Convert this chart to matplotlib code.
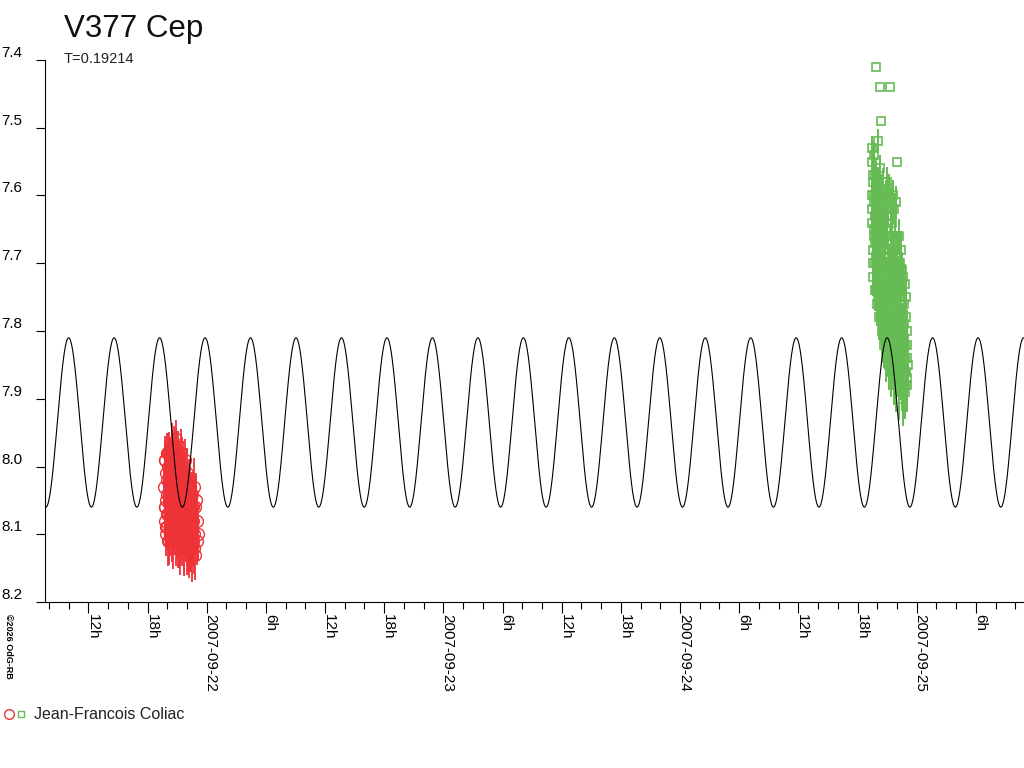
import datetime as dt
import numpy as np
import matplotlib
matplotlib.use("Agg")
from matplotlib import pyplot as plt
import matplotlib.dates as dtm
from matplotlib.lines import Line2D
from matplotlib.ticker import FuncFormatter

plt.rcParams['font.family'] = ['Liberation Sans', 'DejaVu Sans']

# ---- data -------------------------------------------------------------
star = "V377 Cep"
period = 0.19214            # days
epoch = dt.datetime(2007, 9, 21, 23, 50)   # time of a maximum
mag_mean = 7.935
mag_amp = 0.125
observer = "Jean-Francois Coliac"

# night 1 : hours after 2007-09-21 00:00 UT
red_day = dt.datetime(2007, 9, 21)
red_hours = [19.70, 19.73, 19.77, 19.80, 19.84, 19.88, 19.91, 19.95, 19.99, 20.02,
             20.06, 20.10, 20.13, 20.17, 20.21, 20.24, 20.28, 20.32, 20.36, 20.39,
             20.43, 20.47, 20.50, 20.54, 20.58, 20.61, 20.65, 20.69, 20.72, 20.76,
             20.80, 20.84, 20.87, 20.91, 20.95, 20.98, 21.02, 21.06, 21.09, 21.13,
             21.17, 21.21, 21.24, 21.28, 21.32, 21.35, 21.39, 21.43, 21.46, 21.50,
             21.54, 21.58, 21.61, 21.65, 21.69, 21.72, 21.76, 21.80, 21.84, 21.87,
             21.91, 21.95, 21.98, 22.02, 22.06, 22.09, 22.13, 22.17, 22.21, 22.24,
             22.28, 22.32, 22.35, 22.39, 22.43, 22.46, 22.50, 22.54, 22.58, 22.61,
             22.65, 22.69, 22.72, 22.76, 22.80, 22.86, 22.92, 22.98, 23.04, 23.11,
             19.75, 19.82, 19.86, 19.93, 20.00, 20.04, 20.08, 20.15, 20.19, 20.26,
             20.30, 20.34, 20.41, 20.45, 20.52, 20.56, 20.63, 20.67, 20.74, 20.78,
             20.85, 20.89, 20.93, 21.00, 21.04, 21.11, 21.15, 21.19, 21.26, 21.30,
             21.37, 21.41, 21.48, 21.52, 21.56, 21.63, 21.67, 21.74, 21.78, 21.82,
             21.89, 21.93, 22.00, 22.04, 22.11, 22.15, 22.19, 22.26, 22.30, 22.37]
red_mag = [8.03, 8.08, 7.99, 8.06, 8.10, 8.01, 8.05, 7.98, 8.09, 8.04,
           8.00, 8.07, 8.11, 8.02, 7.98, 8.06, 8.09, 7.99, 8.04, 8.08,
           7.97, 8.03, 8.10, 8.06, 7.98, 8.12, 8.01, 8.05, 7.97, 8.08,
           8.02, 8.11, 7.96, 8.06, 8.09, 8.00, 8.04, 8.12, 7.98, 8.07,
           8.03, 8.10, 7.99, 8.06, 8.12, 8.01, 8.08, 7.98, 8.05, 8.11,
           8.02, 8.09, 8.00, 8.07, 8.12, 8.03, 8.10, 7.99, 8.06, 8.11,
           8.04, 8.13, 8.01, 8.08, 8.11, 8.03, 8.06, 8.12, 8.02, 8.09,
           8.05, 8.12, 8.03, 8.10, 8.07, 8.13, 8.04, 8.09, 8.11, 8.06,
           8.08, 8.12, 8.03, 8.10, 8.06, 8.13, 8.05, 8.11, 8.08, 8.10,
           8.06, 7.99, 8.09, 8.02, 8.07, 7.98, 8.11, 8.05, 8.01, 8.10,
           8.04, 8.07, 8.00, 8.11, 8.05, 8.09, 7.99, 8.10, 8.04, 8.02,
           8.09, 7.98, 8.05, 8.10, 8.02, 8.07, 8.12, 8.00, 8.09, 8.04,
           8.06, 8.11, 8.02, 8.08, 8.04, 8.10, 8.06, 8.12, 8.02, 8.08,
           8.10, 8.06, 8.11, 8.04, 8.07, 8.12, 8.05, 8.10, 8.08, 8.12]
red_err = [.030, .025, .035, .028, .032, .040, .026, .030, .034, .027,
           .033, .029, .036, .025, .031, .038, .027, .030, .035, .028,
           .034, .026, .030, .041, .029, .032, .027, .036, .030, .025,
           .031, .037, .028, .033, .035, .026, .039, .030, .032, .034,
           .029, .036, .031, .027, .040, .033, .030, .035, .028, .037,
           .032, .028, .038, .030, .041, .027, .034, .031, .036, .029,
           .035, .030, .037, .042, .028, .033, .039, .045, .031, .036,
           .038, .034, .030, .043, .036, .040, .032, .044, .037, .041,
           .035, .039, .042, .033, .046, .038, .041, .036, .043, .040,
           .036, .031, .028, .040, .033, .030, .037, .029, .035, .032,
           .038, .027, .034, .031, .039, .030, .036, .028, .033, .040,
           .031, .035, .029, .037, .032, .041, .030, .036, .034, .028,
           .039, .033, .030, .036, .042, .031, .035, .038, .032, .037,
           .034, .040, .036, .031, .043, .035, .039, .033, .041, .036]

# night 2 : hours after 2007-09-24 00:00 UT
green_day = dt.datetime(2007, 9, 24)
green_hours = [19.45, 19.48, 19.51, 19.55, 19.58, 19.61, 19.65, 19.68, 19.71, 19.75,
               19.78, 19.81, 19.85, 19.88, 19.91, 19.95, 19.98, 20.01, 20.05, 20.08,
               20.11, 20.15, 20.18, 20.21, 20.25, 20.28, 20.31, 20.35, 20.38, 20.41,
               20.45, 20.48, 20.51, 20.55, 20.58, 20.61, 20.65, 20.68, 20.71, 20.75,
               20.78, 20.81, 20.85, 20.88, 20.91, 20.95, 20.98, 21.01, 21.05, 21.08,
               21.11, 21.15, 21.18, 21.21, 21.25, 21.28, 21.31, 21.35, 21.38, 21.41,
               21.45, 21.48, 21.51, 21.55, 21.58, 21.61, 21.65, 21.68, 21.71, 21.75,
               21.78, 21.81, 21.85, 21.88, 21.91, 21.95, 21.98, 22.01, 22.05, 22.08,
               22.11, 22.15, 22.18, 22.21, 22.25, 22.28, 22.31, 22.35, 22.38, 22.41,
               22.45, 22.48, 22.51, 22.55, 22.58, 22.61, 22.65, 22.68, 22.71, 22.75,
               22.78, 22.81, 22.85, 22.88, 22.91, 22.95, 22.98, 23.01, 23.05, 23.09,
               19.47, 19.53, 19.60, 19.66, 19.73, 19.80, 19.86, 19.93, 20.00, 20.06,
               20.13, 20.20, 20.26, 20.33, 20.40, 20.46, 20.53, 20.60, 20.66, 20.73,
               20.80, 20.86, 20.93, 21.00, 21.06, 21.13, 21.20, 21.26, 21.33, 21.40,
               21.46, 21.53, 21.60, 21.66, 21.73, 21.80, 21.86, 21.93, 22.00, 22.06,
               22.13, 22.20, 22.26, 22.33, 22.40, 22.46, 22.53, 22.60, 22.66, 22.73,
               22.80, 22.86, 22.93, 23.00, 23.06, 19.50, 19.63, 19.90, 20.23, 20.50]
green_mag = [7.55, 7.62, 7.53, 7.68, 7.58, 7.72, 7.60, 7.65, 7.54, 7.70,
             7.63, 7.57, 7.74, 7.41, 7.66, 7.59, 7.76, 7.64, 7.52, 7.69,
             7.58, 7.72, 7.62, 7.78, 7.56, 7.44, 7.67, 7.49, 7.74, 7.60,
             7.70, 7.59, 7.80, 7.64, 7.75, 7.58, 7.68, 7.82, 7.62, 7.77,
             7.66, 7.81, 7.60, 7.72, 7.84, 7.63, 7.58, 7.78, 7.69, 7.83,
             7.62, 7.75, 7.85, 7.59, 7.70, 7.44, 7.80, 7.66, 7.86, 7.61,
             7.73, 7.64, 7.84, 7.60, 7.78, 7.68, 7.87, 7.62, 7.76, 7.83,
             7.66, 7.80, 7.71, 7.88, 7.61, 7.75, 7.55, 7.84, 7.68, 7.79,
             7.72, 7.86, 7.66, 7.80, 7.89, 7.70, 7.77, 7.85, 7.68, 7.82,
             7.74, 7.88, 7.71, 7.83, 7.79, 7.90, 7.72, 7.86, 7.76, 7.81,
             7.84, 7.73, 7.89, 7.78, 7.86, 7.75, 7.82, 7.88, 7.80, 7.85,
             7.64, 7.57, 7.70, 7.61, 7.74, 7.67, 7.58, 7.71, 7.63, 7.75,
             7.66, 7.60, 7.73, 7.69, 7.78, 7.65, 7.72, 7.80, 7.68, 7.75,
             7.70, 7.79, 7.65, 7.74, 7.82, 7.69, 7.77, 7.73, 7.84, 7.71,
             7.79, 7.75, 7.82, 7.70, 7.86, 7.77, 7.73, 7.81, 7.78, 7.85,
             7.80, 7.74, 7.87, 7.82, 7.78, 7.85, 7.80, 7.88, 7.83, 7.79,
             7.86, 7.82, 7.88, 7.84, 7.87, 7.60, 7.66, 7.69, 7.65, 7.73]
green_err = [.020, .025, .018, .030, .022, .028, .024, .026, .019, .029,
             .027, .021, .031, .000, .025, .023, .032, .026, .018, .028,
             .022, .030, .024, .033, .020, .000, .027, .000, .031, .023,
             .029, .022, .034, .025, .030, .021, .027, .035, .024, .031,
             .026, .033, .023, .029, .036, .025, .022, .032, .028, .035,
             .024, .030, .037, .022, .028, .000, .033, .026, .038, .023,
             .031, .025, .036, .023, .032, .027, .039, .024, .030, .035,
             .026, .033, .029, .040, .024, .031, .000, .036, .027, .032,
             .030, .037, .026, .033, .041, .028, .031, .036, .027, .034,
             .029, .038, .027, .034, .031, .040, .028, .036, .030, .033,
             .035, .029, .040, .032, .037, .030, .034, .039, .031, .036,
             .030, .026, .033, .028, .031, .035, .027, .032, .029, .034,
             .031, .027, .036, .030, .033, .028, .035, .031, .037, .029,
             .032, .036, .030, .034, .038, .031, .035, .029, .037, .033,
             .036, .032, .039, .030, .035, .037, .033, .040, .031, .036,
             .034, .038, .032, .041, .035, .037, .033, .039, .036, .034,
             .038, .035, .040, .036, .037, .028, .031, .030, .032, .029]

mag_ticks = [7.4, 7.5, 7.6, 7.7, 7.8, 7.9, 8.0, 8.1, 8.2]
x_start = dt.datetime(2007, 9, 21, 7, 36)
x_end = dt.datetime(2007, 9, 25, 10, 53)

red_col = '#ee3338'
green_col = '#66bb55'

# ---- figure -----------------------------------------------------------
fig = plt.figure(figsize=(10.24, 7.68), dpi=100)
ax = fig.add_axes([45/1024, 1-602/768, 1-45/1024, (602-60)/768])

red_t = [red_day + dt.timedelta(hours=h) for h in red_hours]
green_t = [green_day + dt.timedelta(hours=h) for h in green_hours]

ax.errorbar(red_t, red_mag, yerr=red_err, fmt='o', ms=8.5, mfc='none', mec=red_col,
            mew=1, ecolor=red_col, elinewidth=1.3, capsize=0, zorder=2)
ax.errorbar(green_t, green_mag, yerr=green_err, fmt='s', ms=6, mfc='none', mec=green_col,
            mew=1.2, ecolor=green_col, elinewidth=1.4, capsize=0, zorder=2)

# model light curve with period T
tnum = np.linspace(dtm.date2num(x_start), dtm.date2num(x_end), 4000)
phase = (tnum - dtm.date2num(epoch)) / period
ax.plot(tnum, mag_mean - mag_amp*np.cos(2*np.pi*phase), color='black', lw=0.8, zorder=3)

ax.set_xlim(x_start, x_end)
ax.set_ylim(8.2, 7.4)

for s in ['top', 'right']:
    ax.spines[s].set_visible(False)
ax.spines['left'].set_linewidth(0.8)
ax.spines['bottom'].set_linewidth(0.8)

ax.set_yticks(mag_ticks)
ax.yaxis.set_major_formatter(FuncFormatter(lambda v, p: '%.1f' % v))
ax.tick_params(axis='y', direction='out', length=6.5, width=0.8, pad=10, labelsize=11)
for lab in ax.get_yticklabels():
    lab.set_verticalalignment('bottom')


def hour_fmt(v, pos):
    d = dtm.num2date(v)
    if d.hour == 0:
        return d.strftime('%Y-%m-%d')
    return '%dh' % d.hour


ax.xaxis.set_major_locator(dtm.HourLocator(byhour=[0, 6, 12, 18]))
ax.xaxis.set_minor_locator(dtm.HourLocator(byhour=range(0, 24, 2)))
ax.xaxis.set_major_formatter(FuncFormatter(hour_fmt))
ax.tick_params(axis='x', which='major', direction='out', length=8, width=0.8, pad=1, labelsize=11)
ax.tick_params(axis='x', which='minor', direction='out', length=5, width=0.8)
for lab in ax.get_xticklabels():
    lab.set_rotation(270)
    lab.set_rotation_mode('anchor')
    lab.set_horizontalalignment('left')
    lab.set_verticalalignment('baseline')

fig.text(64/1024, 1-37/768, star, fontsize=22.5, va='baseline', ha='left', color='#111111')
fig.text(64/1024, 1-63/768, "T=%.5f" % period, fontsize=10.5, va='baseline', ha='left', color='#222222')

# legend
fig.add_artist(Line2D([9/1024], [1-714/768], transform=fig.transFigure, marker='o', ms=7,
                      mfc='none', mec=red_col, mew=1, ls='none'))
fig.add_artist(Line2D([21/1024], [1-714/768], transform=fig.transFigure, marker='s', ms=5,
                      mfc='none', mec=green_col, mew=1, ls='none'))
fig.text(34/1024, 1-719/768, observer, fontsize=11.5, va='baseline', ha='left', color='#222222')

fig.text(4/1024, 1-614/768, "\u00a92026 OdG-RB", fontsize=6.5, rotation=270,
         ha='left', va='top', weight='bold')

fig.savefig('out.png', dpi=100)
